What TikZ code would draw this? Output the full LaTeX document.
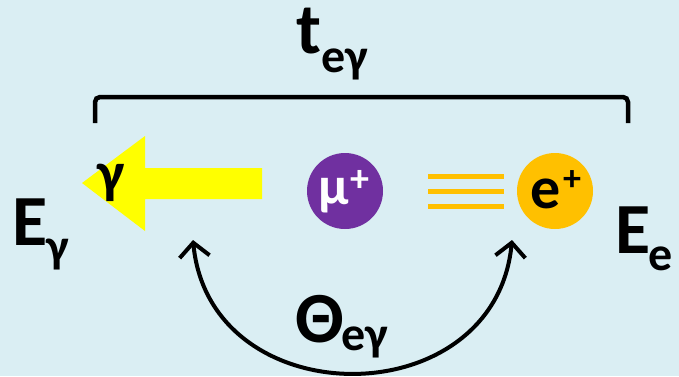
\documentclass[tikz,border=0pt]{standalone}
\usepackage{fontspec}
\setmainfont{Carlito}
\usetikzlibrary{arrows.meta}
\definecolor{bgc}{HTML}{DAEEF3}
\definecolor{yel}{HTML}{FFFF00}
\definecolor{pur}{HTML}{7030A0}
\definecolor{org}{HTML}{FFC000}
\tikzset{
  lbl/.style={anchor=base west, inner sep=0pt, font=\bfseries\fontsize{72}{72}\selectfont},
  sub/.style={anchor=base west, inner sep=0pt, font=\bfseries\fontsize{48}{48}\selectfont},
  ptc/.style={circle, minimum size=76pt, inner sep=0pt},
  thk/.style={line width=4pt}
}
\begin{document}
\begin{tikzpicture}[x=1pt,y=-1pt]
\useasboundingbox (0,0) rectangle (679,376);
\fill[bgc] (0,0) rectangle (679,376);
% bracket
\coordinate (bl) at (95,123);
\coordinate (br) at (628,123);
\draw[line width=4.5pt, rounded corners=5pt] (bl) |- (361,97) -| (br);
\node[lbl] (t) at (296,53) {t};
\node[sub] (ts) at (321,72) {eγ};
% gamma arrow
\fill[yel] (82,183) -- (145,136) -- (145,168) -- (262,168) -- (262,199) -- (145,199) -- (145,231) -- cycle;
\node[anchor=base west, inner sep=0pt, font=\bfseries\fontsize{58}{58}\selectfont] (g) at (97,192) {γ};
% muon
\node[ptc, fill=pur] (mu) at (345,191) {};
\node[anchor=base west, inner sep=0pt, text=white, font=\bfseries\fontsize{54}{54}\selectfont] (mut) at (318,204) {μ};
\node[anchor=base west, inner sep=0pt, text=white, font=\bfseries\fontsize{38}{38}\selectfont] (mup) at (350,191) {+};
% positron lines
\foreach \yy in {176,191,206} \draw[org, line width=5pt] (428,\yy) -- (504,\yy);
% positron
\node[ptc, fill=org] (ep) at (555,191) {};
\node[anchor=base west, inner sep=0pt, font=\bfseries\fontsize{60}{60}\selectfont] (ept) at (530,208) {e};
\node[anchor=base west, inner sep=0pt, font=\bfseries\fontsize{36}{36}\selectfont] (epp) at (563,190) {+};
% energies
\node[lbl] (Eg) at (12,245) {E};
\node[sub] (Egs) at (46,262) {γ};
\node[lbl] (Ee) at (615,253) {E};
\node[sub] (Ees) at (648,270) {e};
% angle arc
\coordinate (al) at (193,240);
\coordinate (ar) at (512,240);
\draw[thk, {Straight Barb[length=14pt,width=30pt]}-{Straight Barb[length=14pt,width=30pt]}] (al) .. controls (210,417) and (495,417) .. (ar);
\node[lbl] (th) at (295,342) {Θ};
\node[sub] (ths) at (341,350) {eγ};
\end{tikzpicture}
\end{document}
